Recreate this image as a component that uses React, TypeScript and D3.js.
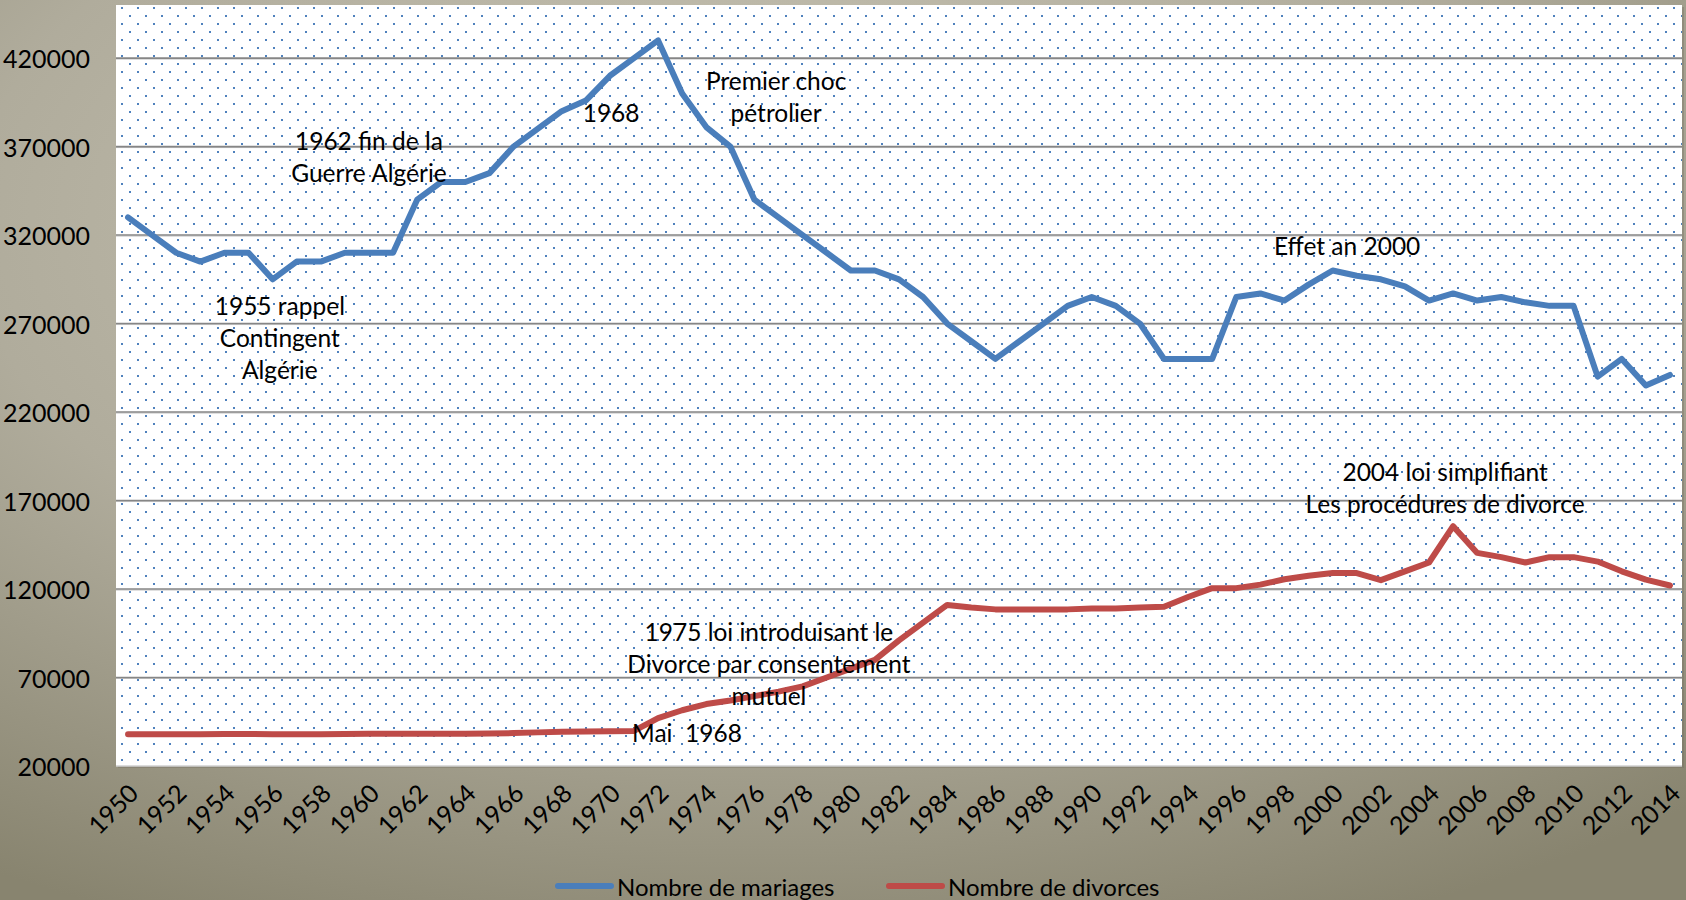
import React from "react";
import * as d3 from "d3";

// années 1950 -> 2014
const years = d3.range(1950, 2015);

const mariages = [
  330000, 320000, 310000, 305000, 310000, 310000, 295000, 305000, 305000, 310000,
  310000, 310000, 340000, 350000, 350000, 355000, 370000, 380000, 390000, 396000,
  410000, 420000, 430000, 400000, 381000, 370000, 340000, 330000, 320000, 310000,
  300000, 300000, 295000, 285000, 270000, 260000, 250000, 260000, 270000, 280000,
  285000, 280000, 270000, 250000, 250000, 250000, 285000, 287000, 283000, 292000,
  300000, 297000, 295000, 291000, 283000, 287000, 283000, 285000, 282000, 280000,
  280000, 240000, 250000, 235000, 241000,
];

const divorces = [
  38000, 38000, 38000, 38000, 38100, 38100, 38000, 38000, 38000, 38100,
  38200, 38200, 38200, 38200, 38200, 38400, 38600, 39000, 39300, 39500,
  39600, 39800, 47000, 51500, 55000, 57000, 59500, 62000, 65000, 70000,
  75000, 80000, 91000, 101000, 111000, 109500, 108500, 108500, 108500, 108500,
  109000, 109000, 109500, 110000, 115500, 120500, 120500, 122500, 125500, 127500,
  129000, 129000, 125000, 130000, 135000, 155500, 140400, 138000, 135000, 138000,
  138000, 135500, 130000, 125300, 122000,
];

const yTicks = [20000, 70000, 120000, 170000, 220000, 270000, 320000, 370000, 420000];

const seriesNames = ["Nombre de mariages", "Nombre de divorces"];
const seriesColors = ["#4a7ebb", "#be4b48"];

// annotations ancrées en (année, valeur)
const notes = [
  { year: 1956.3, value: 280500, lines: ["1955 rappel", "Contingent", "Algérie"] },
  { year: 1960.0, value: 373700, lines: ["1962 fin de la", "Guerre Algérie"] },
  { year: 1970.05, value: 389500, lines: ["1968"] },
  { year: 1976.9, value: 407600, lines: ["Premier choc", "pétrolier"] },
  { year: 2000.6, value: 314400, lines: ["Effet an 2000"] },
  { year: 2004.67, value: 186700, lines: ["2004 loi simplifiant", "Les procédures de divorce"] },
  { year: 1976.6, value: 96300, lines: ["1975 loi introduisant le", "Divorce par consentement", "mutuel"] },
  { year: 1973.2, value: 39200, lines: ["Mai  1968"] },
];

const W = 1686;
const H = 900;
const plot = { left: 116, top: 5, right: 1682, bottom: 766 };
const font = "Lato, 'Open Sans', sans-serif";

function App() {
  const x = d3
    .scaleBand<number>()
    .domain(years)
    .range([plot.left, plot.right]);
  const xc = (yr: number) => (x(yr) as number) + x.bandwidth() / 2;
  const xLin = d3
    .scaleLinear()
    .domain([1950, 2014])
    .range([xc(1950), xc(2014)]);
  const y = d3.scaleLinear().domain([20000, 450000]).range([plot.bottom, plot.top]);

  const line = d3
    .line<number>()
    .x((d, i) => xc(years[i]))
    .y((d) => y(d));

  const series = [mariages, divorces];

  return (
    <svg
      width={W}
      height={H}
      style={{ position: "absolute", left: 0, top: 0, fontFamily: font }}
    >
      <defs>
        <radialGradient id="bg" cx="45%" cy="25%" r="85%">
          <stop offset="0%" stopColor="#cac6b6" />
          <stop offset="55%" stopColor="#b0ac9c" />
          <stop offset="100%" stopColor="#88846f" />
        </radialGradient>
        <pattern
          id="dots"
          patternUnits="userSpaceOnUse"
          width={16}
          height={16}
          x={plot.left + 5}
          y={plot.top + 2}
        >
          <rect x={0} y={0} width={2} height={2} fill="#4f81bd" />
          <rect x={8} y={8} width={2} height={2} fill="#4f81bd" />
        </pattern>
      </defs>

      <rect x={0} y={0} width={W} height={H} fill="url(#bg)" />

      {/* zone de tracé */}
      <rect
        x={plot.left + 2}
        y={plot.top + 2}
        width={plot.right - plot.left}
        height={plot.bottom - plot.top}
        fill="#6f6b5e"
        opacity={0.35}
      />
      <rect
        x={plot.left}
        y={plot.top}
        width={plot.right - plot.left}
        height={plot.bottom - plot.top}
        fill="#ffffff"
      />
      <rect
        x={plot.left}
        y={plot.top}
        width={plot.right - plot.left}
        height={plot.bottom - plot.top}
        fill="url(#dots)"
      />

      {/* grille */}
      {yTicks.slice(1).map((t) => (
        <g key={t}>
          <line
            x1={plot.left}
            x2={plot.right}
            y1={y(t) + 1}
            y2={y(t) + 1}
            stroke="#c4c4c4"
            strokeWidth={1}
          />
          <line
            x1={plot.left}
            x2={plot.right}
            y1={y(t)}
            y2={y(t)}
            stroke="#868686"
            strokeWidth={1.6}
          />
        </g>
      ))}
      <line
        x1={plot.left}
        x2={plot.right}
        y1={plot.bottom}
        y2={plot.bottom}
        stroke="#d0d0d0"
        strokeWidth={1.5}
      />

      {/* axe Y */}
      {yTicks.map((t) => (
        <text
          key={t}
          x={90}
          y={y(t)}
          textAnchor="end"
          dominantBaseline="central"
          fontSize={25}
          fill="#000"
        >
          {t}
        </text>
      ))}

      {/* axe X */}
      {years
        .filter((yr) => (yr - 1950) % 2 === 0)
        .map((yr) => (
          <text
            key={yr}
            transform={`translate(${xc(yr) + 5},${plot.bottom + 22}) rotate(-45)`}
            textAnchor="end"
            dominantBaseline="central"
            fontSize={25}
            fill="#000"
          >
            {yr}
          </text>
        ))}

      {/* courbes */}
      {series.map((s, i) => (
        <path
          key={i}
          d={line(s) as string}
          fill="none"
          stroke={seriesColors[i]}
          strokeWidth={6}
          strokeLinejoin="round"
          strokeLinecap="round"
        />
      ))}

      {/* annotations */}
      {notes.map((n, i) => (
        <text
          key={i}
          x={xLin(n.year)}
          y={y(n.value)}
          textAnchor="middle"
          dominantBaseline="central"
          fontSize={24.5}
          fill="#000"
          style={{ whiteSpace: "pre" }}
        >
          {n.lines.map((l, j) => (
            <tspan key={j} x={xLin(n.year)} dy={j === 0 ? 0 : 32}>
              {l}
            </tspan>
          ))}
        </text>
      ))}

      {/* légende */}
      {seriesNames.map((name, i) => {
        const lx = i === 0 ? 558 : 889;
        return (
          <g key={name}>
            <line
              x1={lx}
              x2={lx + 53}
              y1={886}
              y2={886}
              stroke={seriesColors[i]}
              strokeWidth={6}
              strokeLinecap="round"
            />
            <text
              x={lx + 59}
              y={886}
              dominantBaseline="central"
              fontSize={24}
              fill="#000"
            >
              {name}
            </text>
          </g>
        );
      })}
    </svg>
  );
}

export default App;
